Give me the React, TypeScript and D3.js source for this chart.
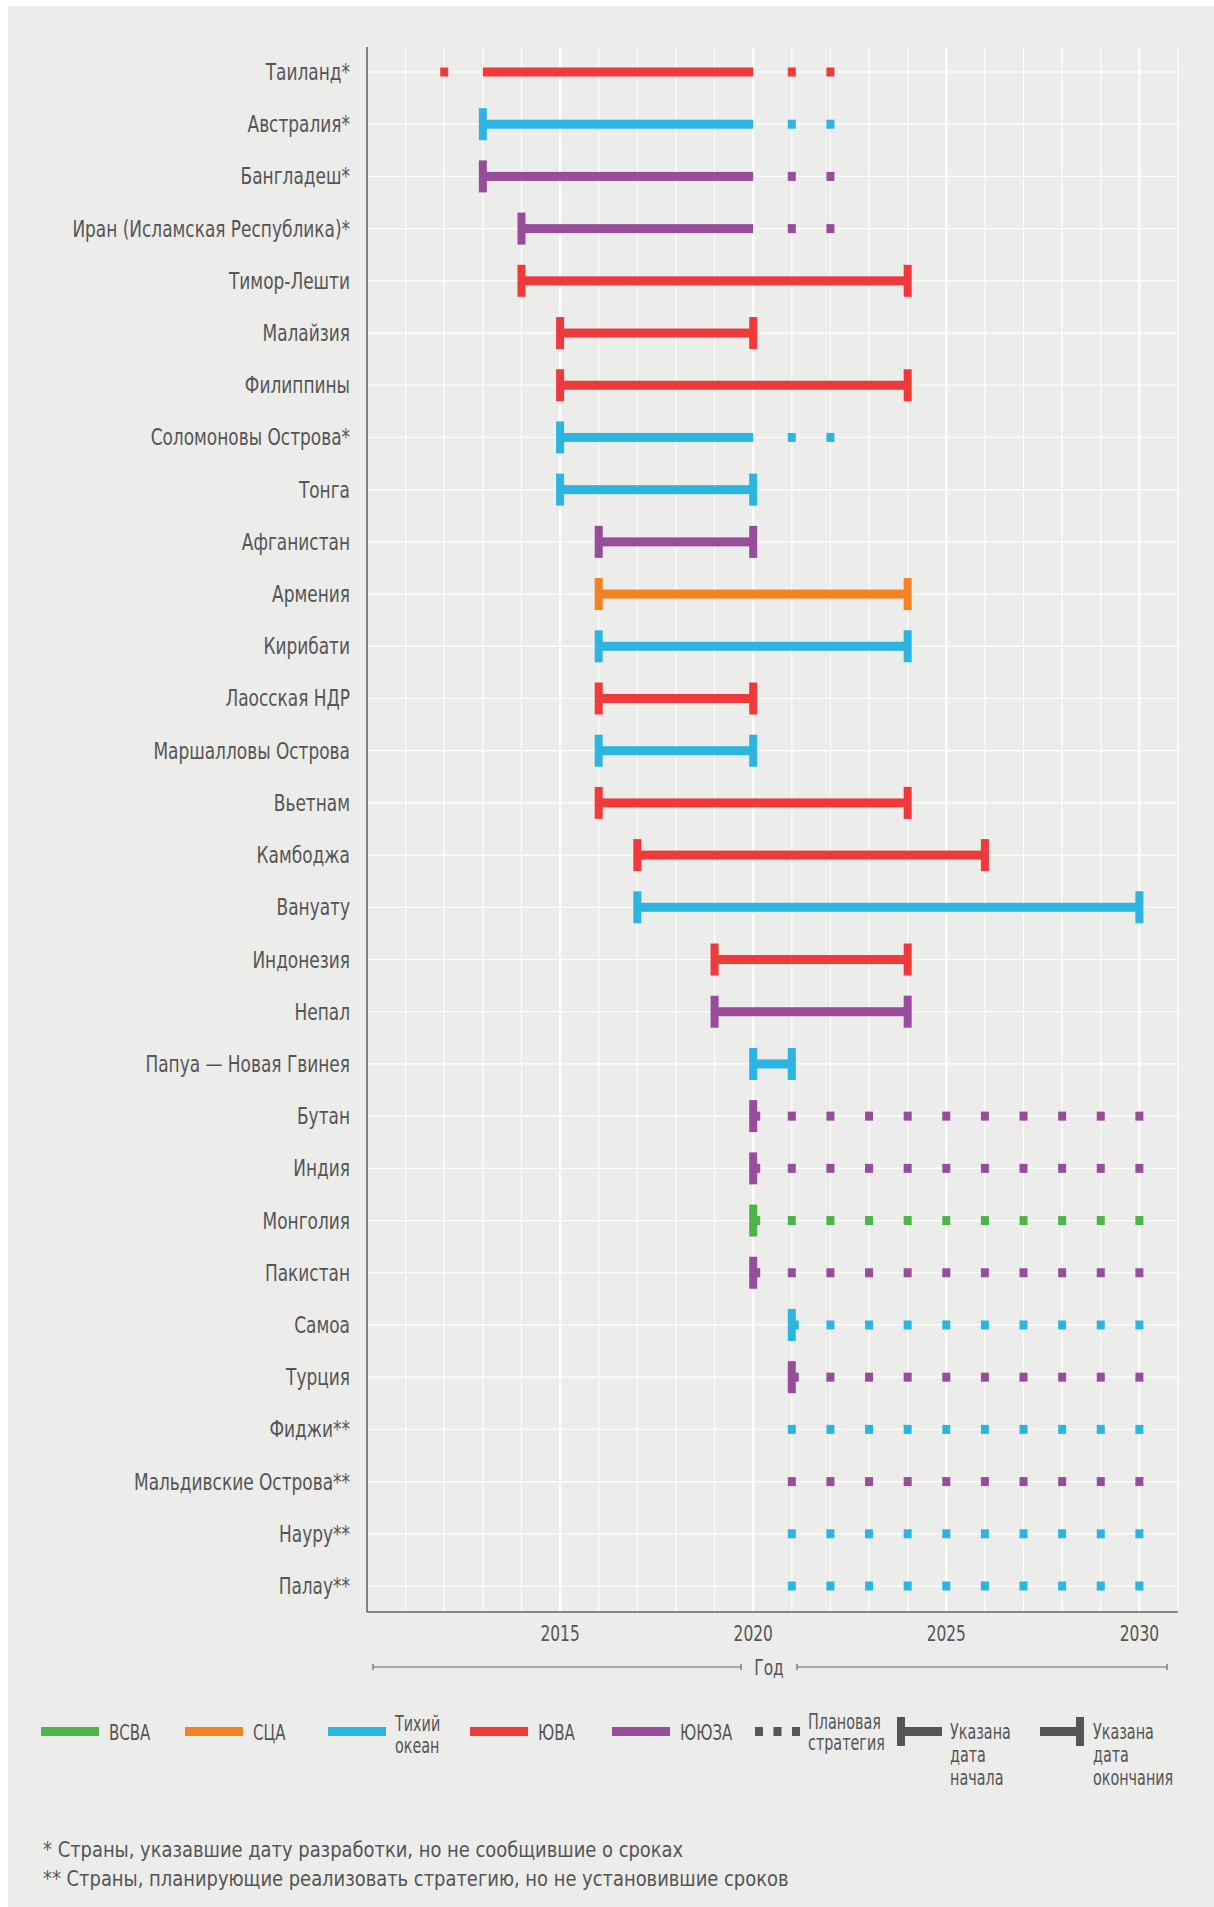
import React from "react";
import * as d3 from "d3";

// ---------- DATA ----------
const countries = [
  "Таиланд*",
  "Австралия*",
  "Бангладеш*",
  "Иран (Исламская Республика)*",
  "Тимор-Лешти",
  "Малайзия",
  "Филиппины",
  "Соломоновы Острова*",
  "Тонга",
  "Афганистан",
  "Армения",
  "Кирибати",
  "Лаосская НДР",
  "Маршалловы Острова",
  "Вьетнам",
  "Камбоджа",
  "Вануату",
  "Индонезия",
  "Непал",
  "Папуа — Новая Гвинея",
  "Бутан",
  "Индия",
  "Монголия",
  "Пакистан",
  "Самоа",
  "Турция",
  "Фиджи**",
  "Мальдивские Острова**",
  "Науру**",
  "Палау**",
];

const regionOf = [
  "ЮВА", "Тихий океан", "ЮЮЗА", "ЮЮЗА", "ЮВА", "ЮВА", "ЮВА", "Тихий океан",
  "Тихий океан", "ЮЮЗА", "СЦА", "Тихий океан", "ЮВА", "Тихий океан", "ЮВА",
  "ЮВА", "Тихий океан", "ЮВА", "ЮЮЗА", "Тихий океан", "ЮЮЗА", "ЮЮЗА", "ВСВА",
  "ЮЮЗА", "Тихий океан", "ЮЮЗА", "Тихий океан", "ЮЮЗА", "Тихий океан", "Тихий океан",
];

const startYear: (number | null)[] = [
  2013, 2013, 2013, 2014, 2014, 2015, 2015, 2015, 2015, 2016, 2016, 2016, 2016, 2016, 2016,
  2017, 2017, 2019, 2019, 2020, 2020, 2020, 2020, 2020, 2021, 2021, null, null, null, null,
];

const endYear: (number | null)[] = [
  2020, 2020, 2020, 2020, 2024, 2020, 2024, 2020, 2020, 2020, 2024, 2024, 2020, 2020, 2024,
  2026, 2030, 2024, 2024, 2021, null, null, null, null, null, null, null, null, null, null,
];

const startMarked = [
  false, true, true, true, true, true, true, true, true, true, true, true, true, true, true,
  true, true, true, true, true, true, true, true, true, true, true, false, false, false, false,
];

const endMarked = [
  false, false, false, false, true, true, true, false, true, true, true, true, true, true, true,
  true, true, true, true, true, false, false, false, false, false, false, false, false, false, false,
];

const plannedYears: number[][] = [
  [2012, 2021, 2022],
  [2021, 2022],
  [2021, 2022],
  [2021, 2022],
  [], [], [],
  [2021, 2022],
  [], [], [], [], [], [], [], [], [], [], [], [],
  [2021, 2022, 2023, 2024, 2025, 2026, 2027, 2028, 2029, 2030],
  [2021, 2022, 2023, 2024, 2025, 2026, 2027, 2028, 2029, 2030],
  [2021, 2022, 2023, 2024, 2025, 2026, 2027, 2028, 2029, 2030],
  [2021, 2022, 2023, 2024, 2025, 2026, 2027, 2028, 2029, 2030],
  [2022, 2023, 2024, 2025, 2026, 2027, 2028, 2029, 2030],
  [2022, 2023, 2024, 2025, 2026, 2027, 2028, 2029, 2030],
  [2021, 2022, 2023, 2024, 2025, 2026, 2027, 2028, 2029, 2030],
  [2021, 2022, 2023, 2024, 2025, 2026, 2027, 2028, 2029, 2030],
  [2021, 2022, 2023, 2024, 2025, 2026, 2027, 2028, 2029, 2030],
  [2021, 2022, 2023, 2024, 2025, 2026, 2027, 2028, 2029, 2030],
];

const regionNames = ["ВСВА", "СЦА", "Тихий океан", "ЮВА", "ЮЮЗА"];
const regionColors = ["#4db548", "#f58220", "#2cb5e1", "#ef3a3c", "#984c9c"];

const yearTicks = [2015, 2020, 2025, 2030];
const xDomain = [2010, 2031];
const axisTitle = "Год";

const plannedLabel = ["Плановая", "стратегия"];
const startLabel = ["Указана", "дата", "начала"];
const endLabel = ["Указана", "дата", "окончания"];

const footnotes = [
  "* Страны, указавшие дату разработки, но не сообщившие о сроках",
  "** Страны, планирующие реализовать стратегию, но не установившие сроков",
];

// ---------- LAYOUT ----------
const W = 1214;
const H = 1907;
const BG = "#ececea";
const TEXT = "#555555";
const AXIS = "#666666";
const FONT = "'DejaVu Sans Condensed', 'Liberation Sans Narrow', 'Roboto', sans-serif";

const plotLeft = 367;
const plotRight = 1178;
const plotTop = 47;
const plotBottom = 1612;

type TProps = {
  x: number;
  y: number;
  sx?: number;
  size?: number;
  anchor?: "start" | "middle" | "end";
  children: React.ReactNode;
};

function T({ x, y, sx = 0.82, size = 23, anchor = "start", children }: TProps) {
  return (
    <text
      transform={`translate(${x},${y}) scale(${sx},1)`}
      textAnchor={anchor}
      fontSize={size}
      fill={TEXT}
    >
      {children}
    </text>
  );
}

export default function App() {
  const x = d3.scaleLinear().domain(xDomain).range([plotLeft, plotRight]);
  const y = d3.scalePoint<string>().domain(countries).range([72, 1586]);
  const color = d3.scaleOrdinal<string, string>().domain(regionNames).range(regionColors);

  const gridYears = d3.range(xDomain[0] + 1, xDomain[1] + 1);
  const barH = 9;
  const capW = 8;
  const capH = 32;
  const dotW = 8;

  const legendX = [41, 185, 328, 470, 612];
  const legendY = 1727;
  const lsx = 0.76;

  return (
    <svg
      width={W}
      height={H}
      style={{ position: "absolute", left: 0, top: 0, display: "block" }}
      fontFamily={FONT}
    >
      <rect x={0} y={0} width={W} height={H} fill="#ffffff" />
      <rect x={8} y={6} width={W - 8} height={H - 6} fill={BG} />

      {/* vertical gridlines */}
      {gridYears.map((yr) => (
        <line
          key={"vg" + yr}
          x1={x(yr)}
          x2={x(yr)}
          y1={plotTop}
          y2={plotBottom}
          stroke="#ffffff"
          strokeWidth={yr % 5 === 0 ? 2.2 : 1.1}
        />
      ))}
      {/* horizontal gridlines */}
      {countries.map((c) => (
        <line
          key={"hg" + c}
          x1={plotLeft}
          x2={plotRight}
          y1={y(c)}
          y2={y(c)}
          stroke="#ffffff"
          strokeWidth={1.2}
        />
      ))}

      {/* axes */}
      <line x1={plotLeft} x2={plotLeft} y1={plotTop} y2={plotBottom} stroke={AXIS} strokeWidth={1.6} />
      <line x1={plotLeft} x2={plotRight} y1={plotBottom} y2={plotBottom} stroke={AXIS} strokeWidth={1.6} />

      {/* row labels */}
      {countries.map((c) => (
        <T key={"lb" + c} x={350} y={(y(c) as number) + 8} anchor="end" sx={0.82}>
          {c}
        </T>
      ))}

      {/* bars */}
      {countries.map((c, i) => {
        const cy = y(c) as number;
        const col = color(regionOf[i]);
        const s = startYear[i];
        const e = endYear[i];
        const parts: React.ReactNode[] = [];
        if (s !== null && e !== null) {
          parts.push(
            <rect key="bar" x={x(s)} y={cy - barH / 2} width={x(e) - x(s)} height={barH} fill={col} />
          );
        }
        if (s !== null && e === null) {
          parts.push(
            <rect key="stub" x={x(s)} y={cy - barH / 2} width={7} height={barH} fill={col} />
          );
        }
        if (s !== null && startMarked[i]) {
          parts.push(
            <rect key="sc" x={x(s) - capW / 2} y={cy - capH / 2} width={capW} height={capH} fill={col} />
          );
        }
        if (e !== null && endMarked[i]) {
          parts.push(
            <rect key="ec" x={x(e) - capW / 2} y={cy - capH / 2} width={capW} height={capH} fill={col} />
          );
        }
        plannedYears[i].forEach((yr) => {
          parts.push(
            <rect key={"d" + yr} x={x(yr) - dotW / 2} y={cy - barH / 2} width={dotW} height={barH} fill={col} />
          );
        });
        return <g key={"row" + c}>{parts}</g>;
      })}

      {/* x tick labels */}
      {yearTicks.map((t) => (
        <T key={"t" + t} x={x(t)} y={1641} anchor="middle" size={22} sx={0.78}>
          {t}
        </T>
      ))}

      {/* axis title with bracket lines */}
      <g stroke={AXIS} strokeWidth={1.2}>
        <line x1={373} x2={741} y1={1667} y2={1667} />
        <line x1={373} x2={373} y1={1664} y2={1670} />
        <line x1={741} x2={741} y1={1664} y2={1670} />
        <line x1={797} x2={1167} y1={1667} y2={1667} />
        <line x1={797} x2={797} y1={1664} y2={1670} />
        <line x1={1167} x2={1167} y1={1664} y2={1670} />
      </g>
      <T x={769} y={1675} anchor="middle" size={22} sx={0.78}>
        {axisTitle}
      </T>

      {/* legend: regions */}
      {regionNames.map((r, i) => {
        const lx = legendX[i];
        const words = r.split(" ");
        return (
          <g key={"lg" + r}>
            <rect x={lx} y={legendY} width={58} height={9} fill={regionColors[i]} />
            {words.length === 1 ? (
              <T x={lx + 68} y={1740} size={22} sx={lsx}>
                {r}
              </T>
            ) : (
              <g>
                <T x={lx + 67} y={1731} size={21} sx={lsx}>
                  {words[0]}
                </T>
                <T x={lx + 67} y={1753} size={21} sx={lsx}>
                  {words[1]}
                </T>
              </g>
            )}
          </g>
        );
      })}

      {/* legend: planned strategy */}
      {[0, 1, 2].map((k) => (
        <rect key={"pd" + k} x={755 + k * 18.5} y={legendY} width={8} height={9} fill={TEXT} />
      ))}
      {plannedLabel.map((w, k) => (
        <T key={"pl" + k} x={808} y={1729 + k * 21} size={21} sx={lsx}>
          {w}
        </T>
      ))}

      {/* legend: start date */}
      <rect x={897} y={1717} width={8} height={29} fill={TEXT} />
      <rect x={905} y={legendY} width={37} height={9} fill={TEXT} />
      {startLabel.map((w, k) => (
        <T key={"sl" + k} x={950} y={1739 + k * 23} size={21} sx={lsx}>
          {w}
        </T>
      ))}

      {/* legend: end date */}
      <rect x={1040} y={legendY} width={37} height={9} fill={TEXT} />
      <rect x={1076} y={1717} width={8} height={29} fill={TEXT} />
      {endLabel.map((w, k) => (
        <T key={"el" + k} x={1093} y={1739 + k * 23} size={21} sx={lsx}>
          {w}
        </T>
      ))}

      {/* footnotes */}
      {footnotes.map((f, i) => (
        <T key={"fn" + i} x={43} y={1857 + i * 29} size={22} sx={0.905}>
          {f}
        </T>
      ))}
    </svg>
  );
}
